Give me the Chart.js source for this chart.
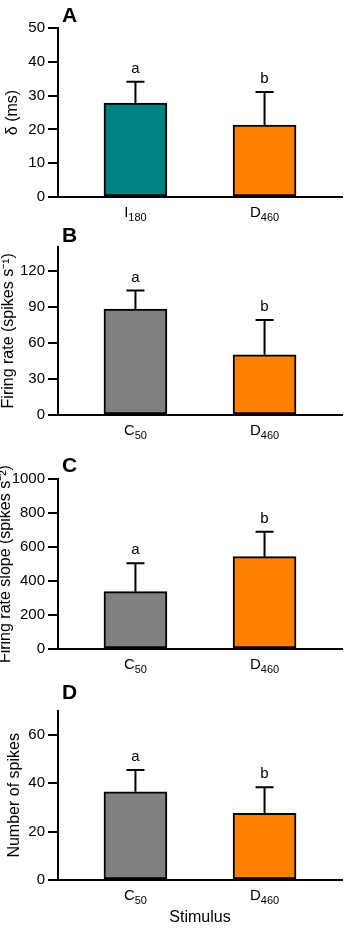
<!DOCTYPE html>
<html>
<head>
<meta charset="utf-8">
<script src="https://cdn.jsdelivr.net/npm/chart.js@4.4.1/dist/chart.umd.min.js"></script>
<style>
  body { margin: 0; background: #fff; width: 352px; height: 928px; position: relative; overflow: hidden; }
  canvas { position: absolute; left: 0; }
</style>
</head>
<body>
<canvas id="chartA" width="352" height="222" style="top:0px"></canvas>
<canvas id="chartB" width="352" height="228" style="top:222px"></canvas>
<canvas id="chartC" width="352" height="240" style="top:440px"></canvas>
<canvas id="chartD" width="352" height="248" style="top:680px"></canvas>
<script>
// stimulus names are split into letter + subscript
const stimA = ['I', 'D'];
const stimSubA = ['180', '460'];
const stimBCD = ['C', 'D'];
const stimSubBCD = ['50', '460'];

const sigLetters = ['a', 'b'];

const deltaMean = [27.8, 21.3];
const deltaErr = [6.3, 9.8];
const rateMean = [88, 50];
const rateErr = [15.5, 29];
const slopeMean = [338, 544];
const slopeErr = [167, 147];
const spikesMean = [36.5, 27.6];
const spikesErr = [9, 10.8];

const ticksA = [0, 10, 20, 30, 40, 50];
const ticksB = [0, 30, 60, 90, 120];
const ticksC = [0, 200, 400, 600, 800, 1000];
const ticksD = [0, 20, 40, 60];

const colorsA = ['#008080', '#ff8000'];
const colorsBCD = ['#808080', '#ff8000'];

const FONT = '"Liberation Sans", Arial, Helvetica, sans-serif';

// error bars, significance letters, subscripted category labels, panel letter
const panelDeco = {
  id: 'panelDeco',
  afterDatasetsDraw(chart, args, opts) {
    const ctx = chart.ctx;
    const xs = chart.scales.x, ys = chart.scales.y;
    ctx.save();
    ctx.strokeStyle = '#000';
    ctx.fillStyle = '#000';
    ctx.lineWidth = 2;
    opts.means.forEach((m, i) => {
      const px = xs.getPixelForValue(i);
      const top = ys.getPixelForValue(m + opts.errors[i]);
      const base = ys.getPixelForValue(m);
      ctx.beginPath();
      ctx.moveTo(px, base);
      ctx.lineTo(px, top);
      ctx.moveTo(px - 9, top);
      ctx.lineTo(px + 9, top);
      ctx.stroke();

      ctx.font = '15px ' + FONT;
      ctx.textAlign = 'center';
      ctx.textBaseline = 'alphabetic';
      ctx.fillText(sigLetters[i], px, top - 9);

      // category label: main letter + smaller lowered digits
      const main = opts.labels[i], sub = opts.subs[i];
      ctx.font = '15px ' + FONT;
      const wMain = ctx.measureText(main).width;
      ctx.font = '11px ' + FONT;
      const wSub = ctx.measureText(sub).width;
      const x0 = px - (wMain + wSub) / 2;
      const yb = chart.chartArea.bottom + 20;
      ctx.textAlign = 'left';
      ctx.font = '15px ' + FONT;
      ctx.fillText(main, x0, yb);
      ctx.font = '11px ' + FONT;
      ctx.fillText(sub, x0 + wMain, yb + 4);
    });
    ctx.font = 'bold 21px ' + FONT;
    ctx.textAlign = 'left';
    ctx.fillText(opts.letter, chart.chartArea.left + 4, opts.letterY);
    ctx.restore();
  }
};

function makePanel(id, cfg) {
  const ctx = document.getElementById(id).getContext('2d');
  return new Chart(ctx, {
    type: 'bar',
    data: {
      datasets: [{
        data: cfg.means.map((v, i) => ({ x: i, y: v })),
        backgroundColor: cfg.colors,
        borderColor: '#000',
        borderWidth: 2,
        borderSkipped: false,
        barThickness: 63
      }]
    },
    plugins: [panelDeco],
    options: {
      responsive: false,
      animation: false,
      layout: { padding: { top: cfg.padTop, right: 10, left: 0, bottom: 0 } },
      plugins: {
        legend: { display: false },
        tooltip: { enabled: false },
        panelDeco: {
          means: cfg.means, errors: cfg.errors,
          labels: cfg.labels, subs: cfg.subs,
          letter: cfg.letter, letterY: cfg.letterY
        }
      },
      scales: {
        x: {
          type: 'linear',
          min: -0.6,
          max: 1.6,
          offset: false,
          ticks: { display: false },
          grid: { display: false },
          border: { color: '#000', width: 2 },
          title: {
            display: !!cfg.xTitle,
            text: cfg.xTitle || '',
            color: '#000',
            font: { family: FONT, size: 16 },
            padding: { top: 0, bottom: 1 }
          },
          afterFit: (scale) => { scale.height = cfg.xHeight; }
        },
        y: {
          min: 0,
          max: cfg.yMax,
          afterBuildTicks: (scale) => { scale.ticks = cfg.ticks.map(v => ({ value: v })); },
          ticks: {
            color: '#000', padding: 3, font: { family: FONT, size: 15 },
            callback: (v) => String(v)
          },
          grid: { drawOnChartArea: false, drawTicks: true, tickLength: 10, color: '#000', lineWidth: 2 },
          border: { color: '#000', width: 2 },
          title: {
            display: true,
            text: cfg.yTitle,
            color: '#000',
            font: { family: FONT, size: 16 },
            padding: { top: cfg.titlePad, bottom: 0 }
          },
          afterFit: (scale) => { scale.width = 58; }
        }
      }
    }
  });
}

makePanel('chartA', {
  means: deltaMean, errors: deltaErr, colors: colorsA,
  labels: stimA, subs: stimSubA, ticks: ticksA, yMax: 50,
  yTitle: 'δ (ms)', titlePad: 3, letter: 'A', letterY: 22,
  padTop: 28, xHeight: 25
});

makePanel('chartB', {
  means: rateMean, errors: rateErr, colors: colorsBCD,
  labels: stimBCD, subs: stimSubBCD, ticks: ticksB, yMax: 140,
  yTitle: 'Firing rate (spikes s⁻¹)', titlePad: -1, letter: 'B', letterY: 20,
  padTop: 24.6, xHeight: 35
});

makePanel('chartC', {
  means: slopeMean, errors: slopeErr, colors: colorsBCD,
  labels: stimBCD, subs: stimSubBCD, ticks: ticksC, yMax: 1000,
  yTitle: 'Firing rate slope (spikes s⁻²)', titlePad: -4.5, letter: 'C', letterY: 32,
  padTop: 39.3, xHeight: 31
});

makePanel('chartD', {
  means: spikesMean, errors: spikesErr, colors: colorsBCD,
  labels: stimBCD, subs: stimSubBCD, ticks: ticksD, yMax: 70,
  yTitle: 'Number of spikes', titlePad: 5, letter: 'D', letterY: 19,
  padTop: 30.7, xHeight: 48, xTitle: 'Stimulus'
});
</script>
</body>
</html>
